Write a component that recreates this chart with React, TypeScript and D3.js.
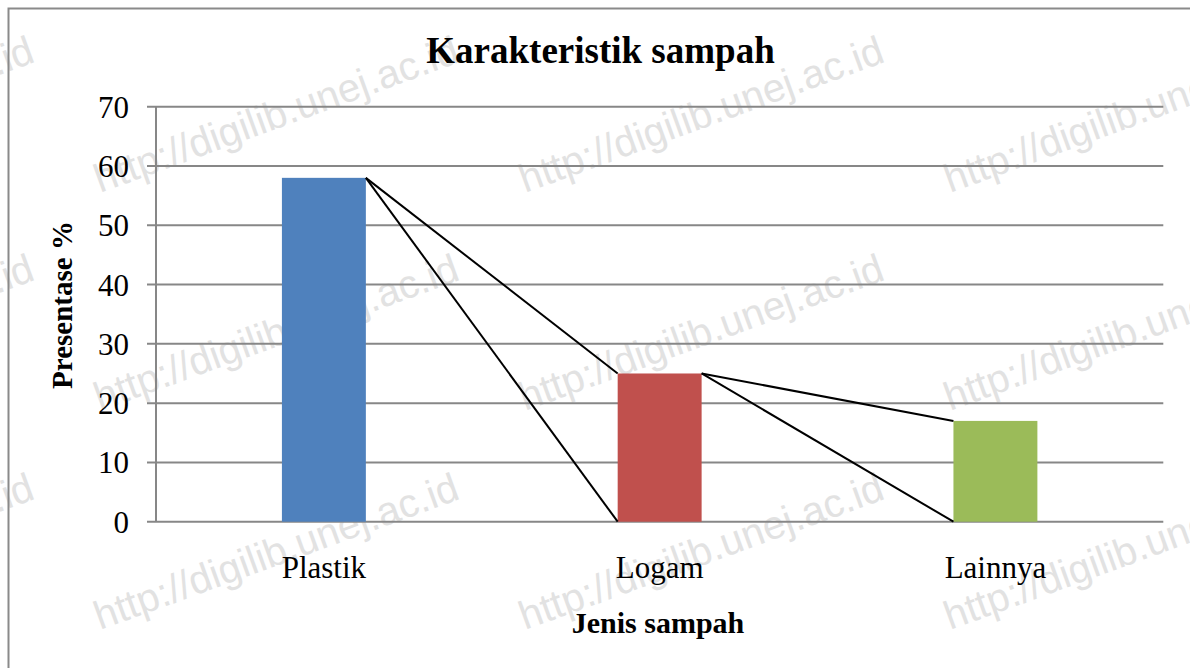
import React from "react";
import * as d3 from "d3";

const categories = ["Plastik", "Logam", "Lainnya"];
const values = [58, 25, 17];
const barColors = ["#4F81BD", "#C0504D", "#9BBB59"];
const yTicks = [0, 10, 20, 30, 40, 50, 60, 70];
const titleText = "Karakteristik sampah";
const xTitle = "Jenis sampah";
const yTitle = "Presentase %";
const watermark = "http://digilib.unej.ac.id";
const wmCols = [-325, 100, 525, 950];
const wmRows = [193, 411, 630];

export default function App() {
  const W = 1190, H = 668;
  const left = 156, right = 1163.3, top = 106.7, bottom = 521.7;
  const x = d3.scaleBand<string>().domain(categories).range([left, right]).paddingInner(0).paddingOuter(0);
  const y = d3.scaleLinear().domain([0, 70]).range([bottom, top]);
  const barW = x.bandwidth() * 0.25;
  const serif = "'Liberation Serif', 'Times New Roman', serif";

  const bars = categories.map((c, i) => {
    const cx = (x(c) as number) + x.bandwidth() / 2;
    return { c, v: values[i], x0: cx - barW / 2, x1: cx + barW / 2, cx, yTop: y(values[i]), color: barColors[i] };
  });

  const connectors: { x1: number; y1: number; x2: number; y2: number }[] = [];
  for (let i = 0; i < bars.length - 1; i++) {
    const a = bars[i], b = bars[i + 1];
    connectors.push({ x1: a.x1, y1: a.yTop, x2: b.x0, y2: b.yTop });
    connectors.push({ x1: a.x1, y1: a.yTop, x2: b.x0, y2: y(0) });
  }

  return (
    <svg width={W} height={H} style={{ position: "fixed", left: 0, top: 0, background: "#fff" }}>
      <rect x={0} y={0} width={W} height={H} fill="#fff" />
      {/* watermarks */}
      {wmRows.map((ry) =>
        wmCols.map((rx) => (
          <text
            key={`${rx}-${ry}`}
            x={rx}
            y={ry}
            transform={`rotate(-20 ${rx} ${ry})`}
            fontFamily="'Liberation Sans', Arial, sans-serif"
            fontSize={40}
            fill="#e2e2e2"
          >
            {watermark}
          </text>
        ))
      )}
      {/* frame */}
      <rect x={8.5} y={8.5} width={W + 20} height={H + 20} fill="none" stroke="#8a8a8a" strokeWidth={2} />
      {/* title */}
      <text x={600.5} y={63} textAnchor="middle" fontFamily={serif} fontWeight="bold" fontSize={37} fill="#000">
        {titleText}
      </text>
      {/* gridlines */}
      {yTicks.map((t) => (
        <g key={t}>
          <line x1={left - 9} x2={right} y1={y(t)} y2={y(t)} stroke="#878787" strokeWidth={2} />
          <text x={129} y={y(t) + 11} textAnchor="end" fontFamily={serif} fontSize={31} fill="#000">
            {t}
          </text>
        </g>
      ))}
      <line x1={left} x2={left} y1={top} y2={bottom} stroke="#878787" strokeWidth={2} />
      {/* bars */}
      {bars.map((b) => (
        <rect key={b.c} x={b.x0} y={b.yTop} width={barW} height={y(0) - b.yTop} fill={b.color} />
      ))}
      {/* connector lines */}
      {connectors.map((l, i) => (
        <line key={i} x1={l.x1} y1={l.y1} x2={l.x2} y2={l.y2} stroke="#000" strokeWidth={2} />
      ))}
      {/* category labels */}
      {bars.map((b) => (
        <text key={b.c} x={b.cx} y={578} textAnchor="middle" fontFamily={serif} fontSize={31} fill="#000">
          {b.c}
        </text>
      ))}
      {/* axis titles */}
      <text x={658} y={633} textAnchor="middle" fontFamily={serif} fontWeight="bold" fontSize={30} fill="#000">
        {xTitle}
      </text>
      <text
        x={0}
        y={0}
        transform={`translate(72 ${305}) rotate(-90)`}
        textAnchor="middle"
        fontFamily={serif}
        fontWeight="bold"
        fontSize={29}
        fill="#000"
      >
        {yTitle}
      </text>
    </svg>
  );
}
